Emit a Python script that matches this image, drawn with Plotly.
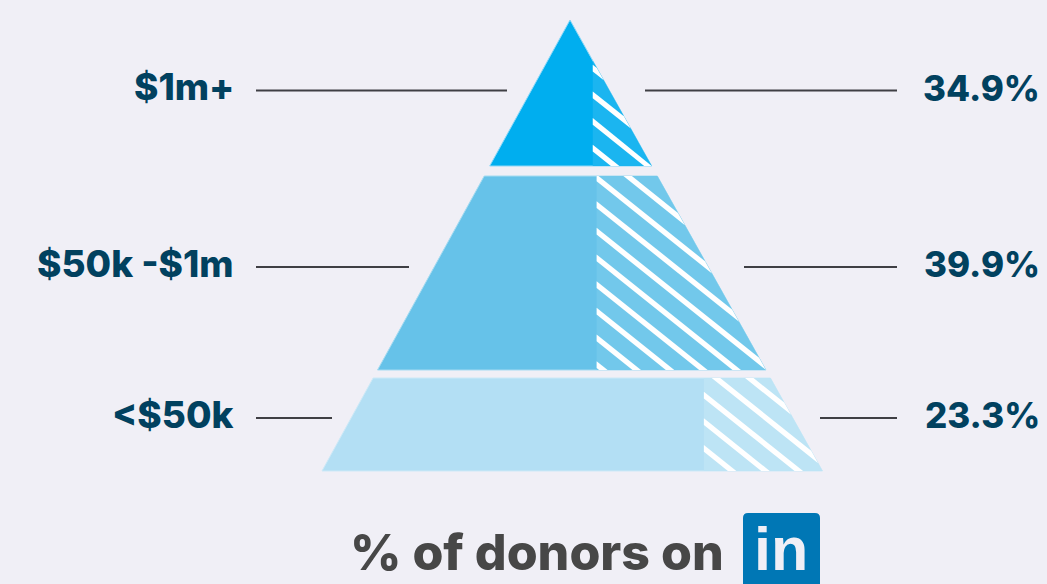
import plotly.graph_objects as go

# Donor tiers, top of the pyramid first
tier_labels = ["$1m+", "$50k -$1m", "<$50k"]
linkedin_share_pct = [34.9, 39.9, 23.3]
share_labels = [f"{v}%" for v in linkedin_share_pct]

# Vertical extent of each band, measured down from the apex
band_top = [0, 156, 358]
band_bottom = [146, 350, 451]
# Fraction of each band's base covered by the hatched section
hatched_base_fraction = [0.364, 0.436, 0.237]
# Leader line reach and height for each band
leader_y = [70.5, 247, 398]
leader_inner_left = [-65, -163, -240]
leader_inner_right = [73, 172, 248]

solid_colors = ["#00AEEF", "#66C2E9", "#B3DFF4"]
hatch_colors = ["#1BB5F0", "#72C8EB", "#BDE4F5"]
edge_colors = ["#8ED8F6", "#A5DBF1", "#CDE9F7"]
hatch_phase = [0.0, 0.0, -2.0]

PAPER = "#F0EFF6"
INK = "#01415F"
GREY = "#474747"
LEADER = "#3F3F44"
APEX_X = -2.0
BASE_LEFT = -250.0
BASE_RIGHT = 250.5
HEIGHT = 451.0
STRIPE_SLOPE = 0.8
STRIPE_PITCH = 26.67
STRIPE_THICK = 6.8
STRIPE_BASE = 48.3 - STRIPE_SLOPE * 21.0
LABEL_FONT = "Inter"


def left_edge(y):
    return APEX_X + (BASE_LEFT - APEX_X) * y / HEIGHT


def right_edge(y):
    return APEX_X + (BASE_RIGHT - APEX_X) * y / HEIGHT


def clip(poly, inside, cross):
    out = []
    for i, p in enumerate(poly):
        q = poly[(i + 1) % len(poly)]
        if inside(p):
            out.append(p)
        if inside(p) != inside(q):
            out.append(cross(p, q))
    return out


def clip_x(poly, x0):
    def cross(p, q):
        t = (x0 - p[0]) / (q[0] - p[0])
        return (x0, p[1] + t * (q[1] - p[1]))
    return clip(poly, lambda p: p[0] >= x0, cross)


def clip_y(poly, y0, keep_below):
    def inside(p):
        return p[1] >= y0 if keep_below else p[1] <= y0

    def cross(p, q):
        t = (y0 - p[1]) / (q[1] - p[1])
        return (p[0] + t * (q[0] - p[0]), y0)
    return clip(poly, inside, cross)


def clip_right_flank(poly):
    # Keep what lies left of the pyramid's right flank
    def gap(p):
        return p[0] - right_edge(p[1])

    def cross(p, q):
        t = gap(p) / (gap(p) - gap(q))
        return (p[0] + t * (q[0] - p[0]), p[1] + t * (q[1] - p[1]))
    return clip(poly, lambda p: gap(p) <= 0, cross)


def add_poly(fig, poly, color, edge=None):
    xs = [p[0] for p in poly] + [poly[0][0]]
    ys = [p[1] for p in poly] + [poly[0][1]]
    fig.add_trace(go.Scatter(
        x=xs, y=ys, mode="lines", fill="toself", fillcolor=color,
        line=dict(color=edge or color, width=1 if edge else 0),
        hoverinfo="skip", showlegend=False,
    ))


fig = go.Figure()

for i in range(len(tier_labels)):
    top, bottom = band_top[i], band_bottom[i]
    band = [(left_edge(top), top), (right_edge(top), top),
            (right_edge(bottom), bottom), (left_edge(bottom), bottom)]
    add_poly(fig, band, solid_colors[i], edge_colors[i])

    base_width = right_edge(bottom) - left_edge(bottom)
    hatch_x = right_edge(bottom) - hatched_base_fraction[i] * base_width
    hatched = clip_x(band, hatch_x)
    add_poly(fig, hatched, hatch_colors[i])

    # White diagonal stripes, cut to the hatched section of the band
    for k in range(-30, 40):
        c = STRIPE_BASE + hatch_phase[i] + k * STRIPE_PITCH
        x0, x1 = hatch_x - 5, BASE_RIGHT + 5
        stripe = [(x0, c + STRIPE_SLOPE * x0 - STRIPE_THICK / 2),
                  (x1, c + STRIPE_SLOPE * x1 - STRIPE_THICK / 2),
                  (x1, c + STRIPE_SLOPE * x1 + STRIPE_THICK / 2),
                  (x0, c + STRIPE_SLOPE * x0 + STRIPE_THICK / 2)]
        piece = clip_x(stripe, hatch_x)
        piece = clip_y(piece, top, True) if piece else piece
        piece = clip_y(piece, bottom, False) if piece else piece
        piece = clip_right_flank(piece) if piece else piece
        if len(piece) >= 3:
            add_poly(fig, piece, "#FFFFFF")

    # Leader lines on both sides of the band
    for a, b in ((-316, leader_inner_left[i]), (leader_inner_right[i], 325)):
        fig.add_trace(go.Scatter(
            x=[a, b], y=[leader_y[i], leader_y[i]], mode="lines",
            line=dict(color=LEADER, width=2), hoverinfo="skip", showlegend=False,
        ))

    fig.add_annotation(x=-336, y=leader_y[i] - 4, text=tier_labels[i], showarrow=False,
                       xanchor="right", yanchor="middle",
                       font=dict(family=LABEL_FONT, size=37, color=INK, weight=800))
    fig.add_annotation(x=470, y=leader_y[i] - 3, text=share_labels[i], showarrow=False,
                       xanchor="right", yanchor="middle",
                       font=dict(family=LABEL_FONT, size=35, color=INK, weight=800))

# Caption and LinkedIn badge under the pyramid
fig.add_annotation(x=154, y=532, text="% of donors on", showarrow=False,
                   xanchor="right", yanchor="middle",
                   font=dict(family=LABEL_FONT, size=50, color=GREY, weight=800))
fig.add_shape(type="path", layer="above",
              path="M 171 498 Q 171 493 176 493 L 243 493 Q 248 493 248 498 L 248 570 L 171 570 Z",
              fillcolor="#0077B5", line=dict(width=0))
fig.add_annotation(x=209, y=528.5, text="in", showarrow=False,
                   xanchor="center", yanchor="middle",
                   font=dict(family="Liberation Sans", size=61, color="#F0EFF6", weight=700))

fig.update_layout(
    width=1047, height=584, margin=dict(l=0, r=0, t=0, b=0),
    paper_bgcolor=PAPER, plot_bgcolor=PAPER, showlegend=False,
    xaxis=dict(range=[-572, 475], visible=False, fixedrange=True),
    yaxis=dict(range=[564, -20], visible=False, fixedrange=True),
)

fig.write_html("out.html", config={"displayModeBar": False})
